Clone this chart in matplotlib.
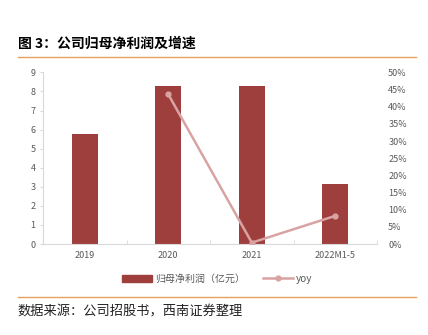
import matplotlib
matplotlib.use('Agg')
import matplotlib.pyplot as plt
from matplotlib.lines import Line2D
from matplotlib.ticker import FuncFormatter
import numpy as np

plt.rcParams['font.family'] = ['Noto Sans CJK SC', 'DejaVu Sans']

years = ['2019', '2020', '2021', '2022M1-5']
profit = [5.77, 8.28, 8.28, 3.14]
yoy = [43.6, 0.4, 8.2]
yoy_years = ['2020', '2021', '2022M1-5']

bar_color = '#9E3F3E'
line_color = '#D9A3A3'
grey = '#595959'
axis_grey = '#D9D9D9'
orange = '#E3A25F'

fig = plt.figure(figsize=(4.28, 3.35), dpi=100)
ax = fig.add_axes([0.1005, 0.2716, 0.7805, 0.5124])

x = np.arange(len(years))
ax.bar(x, profit, width=0.31, color=bar_color, zorder=2)
ax.set_xlim(-0.5, len(years) - 0.5)
ax.set_ylim(0, 9)
ax.set_yticks(range(0, 10))
ax.set_xticks(x)
ax.set_xticklabels(years)
ax.set_xticks(np.arange(-0.5, len(years)), minor=True)
ax.tick_params(axis='x', which='major', length=0, labelsize=6.5, colors=grey, pad=5)
ax.tick_params(axis='x', which='minor', length=3, color=axis_grey, direction='in')
ax.tick_params(axis='y', length=2.5, color=axis_grey, labelsize=6.5, colors=grey, pad=3)
for s in ['top', 'right']:
    ax.spines[s].set_visible(False)
for s in ['left', 'bottom']:
    ax.spines[s].set_color(axis_grey)
    ax.spines[s].set_linewidth(0.8)

ax2 = ax.twinx()
xi = [years.index(y) for y in yoy_years]
ax2.plot(xi, yoy, color=line_color, lw=1.8, marker='o', ms=3.5, zorder=3)
ax2.set_ylim(0, 50)
ax2.set_yticks(range(0, 51, 5))
ax2.yaxis.set_major_formatter(FuncFormatter(lambda v, p: f'{int(v)}%'))
ax2.tick_params(axis='y', length=0, labelsize=6.5, colors=grey, pad=8)
for s in ax2.spines.values():
    s.set_visible(False)

handles = [plt.Rectangle((0, 0), 1, 1, color=bar_color),
           Line2D([0], [0], color=line_color, lw=1.8, marker='o', ms=3.5)]
fig.legend(handles, ['归母净利润（亿元）', 'yoy'], loc='center', bbox_to_anchor=(0.507, 0.168),
           ncol=2, frameon=False, fontsize=7.2, handlelength=3, columnspacing=1.8,
           handletextpad=0.3, labelcolor=grey)

fig.text(0.042, 0.87, '图 3：公司归母净利润及增速', fontsize=10, fontweight='bold',
         color='black', va='center')
fig.add_artist(Line2D([0.042, 0.972], [0.83, 0.83], color=orange, lw=1))
fig.add_artist(Line2D([0.042, 0.972], [0.113, 0.113], color=orange, lw=1))
fig.text(0.042, 0.068, '数据来源：公司招股书，西南证券整理', fontsize=9.5, style='italic',
         fontweight='light', color='#222222', va='center')

fig.savefig('out.png', dpi=100)
